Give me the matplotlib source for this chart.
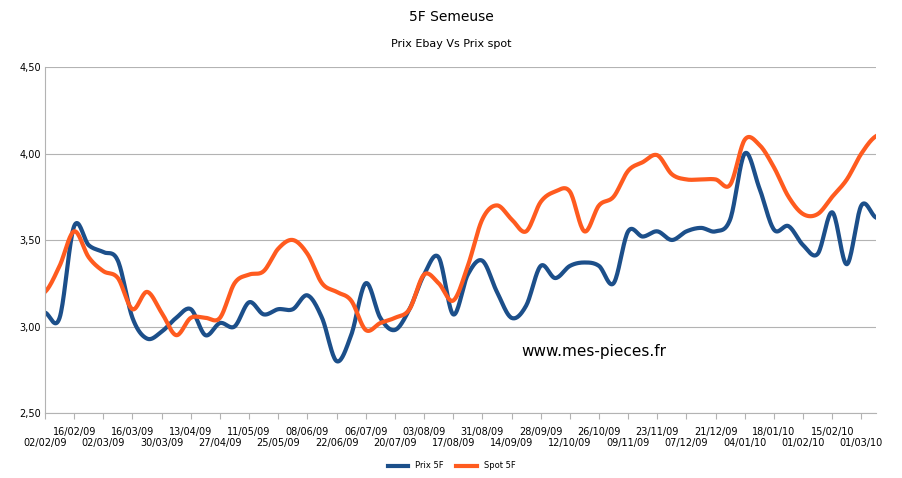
import numpy as np
import matplotlib
matplotlib.use("Agg")
import matplotlib.pyplot as plt
import datetime as dt

start = dt.date(2009, 2, 2)
dates = [start + dt.timedelta(days=7*i) for i in range(58)]
prix = [3.08,3.05,3.58,3.47,3.43,3.38,3.05,2.93,2.97,3.05,3.10,2.95,3.02,3.00,3.14,3.07,3.10,3.10,3.18,3.05,
        2.80,2.95,3.25,3.05,2.98,3.10,3.30,3.40,3.07,3.30,3.38,3.20,3.05,3.12,3.35,3.28,3.35,3.37,3.35,3.25,
        3.55,3.52,3.55,3.50,3.55,3.57,3.55,3.62,4.00,3.80,3.56,3.58,3.47,3.42,3.66,3.36,3.70,3.63]
spot = [3.20,3.35,3.55,3.40,3.32,3.28,3.10,3.20,3.08,2.95,3.05,3.05,3.05,3.25,3.30,3.32,3.45,3.50,3.42,3.25,
        3.20,3.15,2.98,3.02,3.05,3.10,3.30,3.25,3.15,3.35,3.62,3.70,3.62,3.55,3.72,3.78,3.78,3.55,3.70,3.75,
        3.90,3.95,3.99,3.88,3.85,3.85,3.85,3.82,4.08,4.05,3.92,3.75,3.65,3.65,3.75,3.85,4.00,4.10]
labels = [d.strftime("%d/%m/%y") for d in dates[::2]]

def smooth(y, n=20):
    y = np.asarray(y, float)
    p = np.concatenate([[y[0]], y, [y[-1]]])
    xs, ys = [], []
    t = np.linspace(0, 1, n, endpoint=False)
    for i in range(1, len(p) - 2):
        p0, p1, p2, p3 = p[i-1], p[i], p[i+1], p[i+2]
        ys.append(0.5*((2*p1) + (-p0+p2)*t + (2*p0-5*p1+4*p2-p3)*t**2 + (-p0+3*p1-3*p2+p3)*t**3))
        xs.append(i - 1 + t)
    xs.append([len(y)-1]); ys.append([y[-1]])
    return np.concatenate(xs), np.concatenate(ys)

fig = plt.figure(figsize=(9.03, 4.78), dpi=100)
ax = fig.add_axes([45/903, 1-413/478, (876-45)/903, (413-67)/478])
x = np.arange(len(prix))
bx, by = smooth(prix)
ox, oy = smooth(spot)
ax.plot(bx, by, color="#1c4f8a", lw=3, label="Prix 5F")
ax.plot(ox, oy, color="#ff5b1f", lw=3, label="Spot 5F")
ax.set_xlim(0, len(prix)-1)
ax.set_ylim(2.5, 4.5)
ax.set_yticks([2.5, 3.0, 3.5, 4.0, 4.5])
ax.set_yticklabels(["2,50", "3,00", "3,50", "4,00", "4,50"], fontsize=7)
ax.yaxis.grid(True, color="#b3b3b3", lw=0.8)
ax.set_axisbelow(True)
for s in ["top", "right"]:
    ax.spines[s].set_visible(False)
ax.spines["left"].set_color("#b3b3b3")
ax.spines["bottom"].set_color("#b3b3b3")
ax.tick_params(axis="y", length=0, pad=3)
ax.set_xticks(x[::2])
ax.set_xticklabels([])
ax.tick_params(axis="x", length=4, color="#b3b3b3")
for k, (xi, lab) in enumerate(zip(x[::2], labels)):
    ax.text(xi, 2.5 - (0.08 if k % 2 else 0.145), lab, fontsize=7, ha="center", va="top")
ax.text(0.66, 0.165, "www.mes-pieces.fr", transform=ax.transAxes, fontsize=11, ha="center")
fig.text(0.5, 1-17/478, "5F Semeuse", ha="center", va="center", fontsize=10)
fig.text(0.5, 1-44/478, "Prix Ebay Vs Prix spot", ha="center", va="center", fontsize=8)
fig.legend(loc="center", bbox_to_anchor=(0.5, 1-466/478), ncol=2, frameon=False, fontsize=6,
           handlelength=2.5, columnspacing=1.5)
fig.savefig("out.png", dpi=100)
